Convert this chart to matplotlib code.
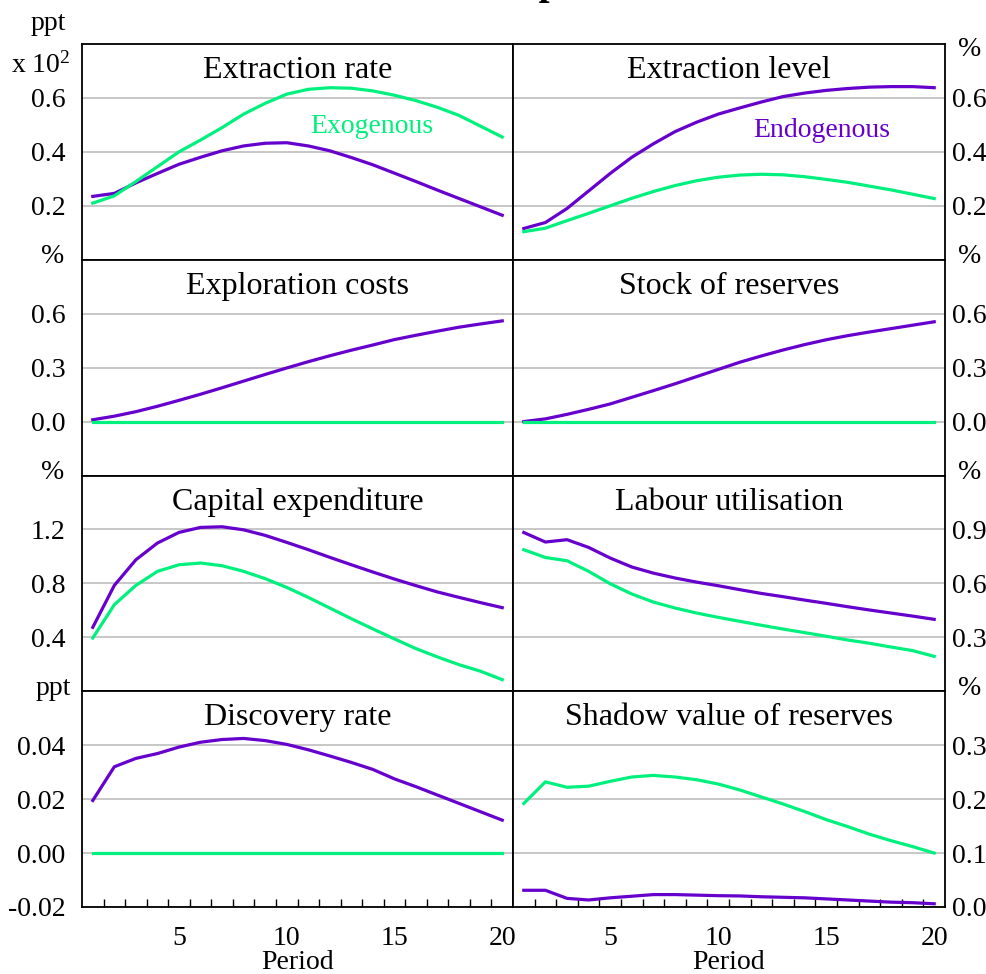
import numpy as np
import matplotlib.pyplot as plt

plt.rcParams['font.family'] = ['Liberation Serif', 'DejaVu Serif']
plt.rcParams['mathtext.fontset'] = 'custom'
plt.rcParams['mathtext.rm'] = 'Liberation Serif'

periods = np.arange(1, 21)

# endogenous (purple) and exogenous (green) responses
ext_rate_endo = [0.235, 0.246, 0.285, 0.32, 0.354, 0.38, 0.404, 0.422, 0.432, 0.434,
                 0.422, 0.404, 0.379, 0.352, 0.321, 0.29, 0.258, 0.227, 0.196, 0.165]
ext_rate_exo = [0.21, 0.237, 0.29, 0.345, 0.40, 0.444, 0.49, 0.54, 0.58, 0.614,
                0.632, 0.638, 0.636, 0.626, 0.61, 0.59, 0.565, 0.535, 0.495, 0.455]

ext_level_endo = [0.116, 0.138, 0.19, 0.255, 0.32, 0.38, 0.43, 0.475, 0.51, 0.54,
                  0.563, 0.585, 0.605, 0.618, 0.628, 0.635, 0.64, 0.642, 0.642, 0.638]
ext_level_exo = [0.104, 0.117, 0.145, 0.172, 0.2, 0.228, 0.253, 0.275, 0.293, 0.306,
                 0.314, 0.317, 0.315, 0.308, 0.298, 0.287, 0.273, 0.259, 0.243, 0.227]

expl_cost_endo = [0.01, 0.03, 0.055, 0.085, 0.118, 0.152, 0.188, 0.225, 0.262, 0.298,
                  0.333, 0.366, 0.397, 0.426, 0.456, 0.48, 0.503, 0.525, 0.543, 0.56]
expl_cost_exo = [0.0] * 20

reserves_endo = [0.0, 0.015, 0.04, 0.068, 0.098, 0.135, 0.172, 0.21, 0.25, 0.29,
                 0.33, 0.365, 0.398, 0.428, 0.455, 0.478, 0.498, 0.517, 0.536, 0.555]
reserves_exo = [0.0] * 20

capex_endo = [0.474, 0.785, 0.975, 1.099, 1.178, 1.215, 1.22, 1.197, 1.156, 1.104,
              1.05, 0.993, 0.938, 0.884, 0.832, 0.783, 0.736, 0.696, 0.657, 0.62]
capex_exo = [0.395, 0.642, 0.785, 0.889, 0.938, 0.951, 0.931, 0.889, 0.835, 0.77,
             0.696, 0.617, 0.538, 0.462, 0.388, 0.316, 0.254, 0.197, 0.148, 0.086]

labour_endo = [0.883, 0.83, 0.843, 0.8, 0.741, 0.691, 0.657, 0.63, 0.607, 0.587,
               0.565, 0.544, 0.526, 0.507, 0.489, 0.47, 0.452, 0.435, 0.418, 0.4]
labour_exo = [0.787, 0.744, 0.726, 0.667, 0.598, 0.541, 0.496, 0.463, 0.435, 0.411,
              0.389, 0.367, 0.346, 0.326, 0.306, 0.285, 0.267, 0.246, 0.226, 0.194]

disc_endo = [0.0195, 0.032, 0.0351, 0.0369, 0.0393, 0.0411, 0.0421, 0.0425, 0.0417, 0.0403,
             0.0383, 0.036, 0.0336, 0.031, 0.0275, 0.0246, 0.0215, 0.0184, 0.0153, 0.0122]
disc_exo = [0.0] * 20

shadow_endo = [0.031, 0.031, 0.016, 0.013, 0.017, 0.02, 0.023, 0.023, 0.022, 0.021,
               0.0205, 0.019, 0.018, 0.017, 0.015, 0.013, 0.011, 0.009, 0.008, 0.006]
shadow_exo = [0.192, 0.232, 0.222, 0.224, 0.233, 0.241, 0.244, 0.241, 0.236, 0.228,
              0.217, 0.204, 0.191, 0.177, 0.162, 0.149, 0.135, 0.123, 0.112, 0.1]

titles = ['Extraction rate', 'Extraction level', 'Exploration costs', 'Stock of reserves',
          'Capital expenditure', 'Labour utilisation', 'Discovery rate', 'Shadow value of reserves']
units = ['ppt', '%', '%', '%', '%', '%', 'ppt', '%']
ylims = [(0, 0.8), (0, 0.8), (-0.3, 0.9), (-0.3, 0.9), (0, 1.6), (0, 1.2), (-0.02, 0.06), (0, 0.4)]
yticks = [[0.2, 0.4, 0.6], [0.2, 0.4, 0.6], [0.0, 0.3, 0.6], [0.0, 0.3, 0.6],
          [0.4, 0.8, 1.2], [0.3, 0.6, 0.9], [-0.02, 0.0, 0.02, 0.04], [0.0, 0.1, 0.2, 0.3]]
tickfmt = ['%.1f'] * 6 + ['%.2f', '%.1f']
endo = [ext_rate_endo, ext_level_endo, expl_cost_endo, reserves_endo,
        capex_endo, labour_endo, disc_endo, shadow_endo]
exo = [ext_rate_exo, ext_level_exo, expl_cost_exo, reserves_exo,
       capex_exo, labour_exo, disc_exo, shadow_exo]

purple = '#6600CC'
green = '#00F07D'

W, H = 987, 974
fig = plt.figure(figsize=(W / 100, H / 100), dpi=100)


def fx(px):
    return px / W


def fy(py):
    return 1 - py / H


top0, rowh = 44, 215.75
axes = []
for i in range(8):
    row, col = i // 2, i % 2
    left = 82 if col == 0 else 513
    width = 431 if col == 0 else 432
    top = top0 + row * rowh
    ax = fig.add_axes([fx(left), fy(top + rowh), width / W, rowh / H])
    ax.plot(periods, endo[i], color=purple, lw=2.3, zorder=3)
    ax.plot(periods, exo[i], color=green, lw=2.3, zorder=3)
    ax.set_xlim(0.5, 20.5)
    ax.set_ylim(*ylims[i])
    ax.set_yticks(yticks[i])
    ax.set_yticklabels([tickfmt[i] % v for v in yticks[i]])
    ax.yaxis.grid(True, color='#b8b8b8', lw=1.1)
    ax.set_axisbelow(True)
    for s in ax.spines.values():
        s.set_linewidth(1.3)
    ax.set_xticks([5, 10, 15, 20])
    ax.set_xticks(np.arange(1.5, 20, 1), minor=True)
    if col == 0:
        ax.tick_params(axis='y', length=0, pad=12, labelsize=20)
    else:
        ax.yaxis.tick_right()
        ax.tick_params(axis='y', length=0, pad=5, labelsize=20)
    if row == 3:
        ax.tick_params(axis='x', which='major', length=0, pad=14, labelsize=20)
        ax.tick_params(axis='x', which='minor', direction='in', length=6, width=1)
    else:
        ax.tick_params(axis='x', which='both', length=0, labelbottom=False)
    ax.text(0.5, 0.842, titles[i], transform=ax.transAxes, ha='center',
            va='baseline', fontsize=23)
    axes.append(ax)

    # unit labels beside each panel
    if i == 0:
        fig.text(fx(48), fy(23), 'ppt', ha='center', va='center', fontsize=20)
        fig.text(fx(71), fy(73), r'x $\mathrm{10^2}$', ha='right', va='baseline', fontsize=20)
    elif col == 0:
        fig.text(fx(53), fy(top - 3), units[i], ha='center', va='center', fontsize=20)
    else:
        yy = 50 if row == 0 else top - 3
        fig.text(fx(970), fy(yy), units[i], ha='center', va='center', fontsize=20)

axes[0].text(0.673, 0.587, 'Exogenous', color=green, transform=axes[0].transAxes,
             ha='center', va='baseline', fontsize=20)
axes[1].text(0.715, 0.569, 'Endogenous', color=purple, transform=axes[1].transAxes,
             ha='center', va='baseline', fontsize=20)

fig.text(fx(297.5), fy(969), 'Period', ha='center', va='baseline', fontsize=20)
fig.text(fx(729), fy(969), 'Period', ha='center', va='baseline', fontsize=20)

# figure title, cut off by the top edge as in the original (only a descender shows)
fig.text(fx(415), fy(-6), 'Extraction Shock Responses', ha='center', va='baseline',
         fontsize=28, fontweight='bold')

fig.savefig('out.png', dpi=100)
